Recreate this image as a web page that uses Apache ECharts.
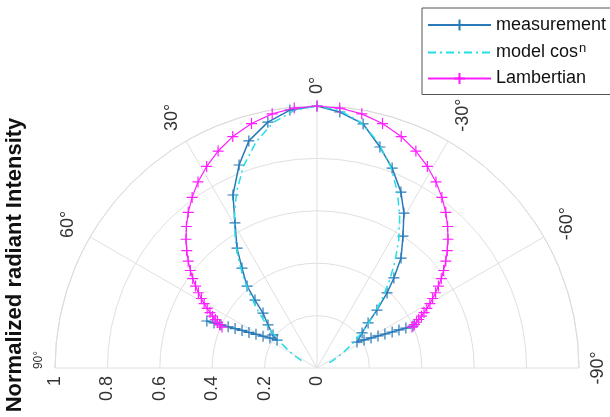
<!DOCTYPE html>
<html>
<head>
<meta charset="utf-8">
<script src="https://cdn.jsdelivr.net/npm/echarts@6/dist/echarts.min.js"></script>
<style>
html,body{margin:0;padding:0;background:#fff;}
#chart{width:610px;height:417px;}
</style>
</head>
<body>
<div id="chart"></div>
<script>
// ---------- data (angles in degrees, radius = normalized intensity) ----------
var measAngles = [-66.4, -65.8, -65.1, -64.4, -63.4, -62.3, -60.9, -59.2, -57.0, -52.1, -48.6, -46.0, -43.0, -40.5, -37.4, -33.1, -29.3, -25.5, -20.6, -15.9, -10.7, -5.1, 0,
  6.0, 11.3, 16.7, 21.0, 25.9, 29.5, 33.7, 36.9, 40.5, 42.4, 44.5, 48.7, 53.1, 55.0, 57.5, 59.5, 61.1, 62.4, 63.4, 64.3, 65.1, 65.8, 66.4, 66.9];
var measValues = [0.400, 0.372, 0.345, 0.318, 0.290, 0.263, 0.236, 0.209, 0.182, 0.218, 0.260, 0.318, 0.392, 0.452, 0.528, 0.601, 0.678, 0.744, 0.815, 0.877, 0.948, 0.981, 1.0,
  0.990, 0.957, 0.905, 0.830, 0.734, 0.636, 0.550, 0.477, 0.411, 0.351, 0.294, 0.249, 0.210, 0.186, 0.213, 0.239, 0.266, 0.293, 0.320, 0.347, 0.374, 0.402, 0.429, 0.457];

var fitAngles = [-66.7, -66.0, -65.3, -64.5, -63.6, -62.6, -61.5, -60.3, -59.0, -57.6, -56.0, -54.3, -52.4, -50.3, -48.0, -45.5, -42.7, -39.6, -36.2, -32.6, -28.7, -24.5, -20, -15, -10, -5, 0,
  5, 10, 15, 20, 24.5, 28.7, 32.6, 36.2, 39.6, 42.7, 45.5, 48.0, 50.3, 52.4, 54.3, 56.0, 57.6, 59.0, 60.3, 61.5, 62.6, 63.6, 64.5, 65.3, 66.0, 66.7];
var modelValues = [0.051, 0.056, 0.061, 0.067, 0.075, 0.083, 0.094, 0.106, 0.120, 0.136, 0.156, 0.179, 0.206, 0.239, 0.276, 0.321, 0.373, 0.435, 0.504, 0.579, 0.657, 0.740, 0.820, 0.895, 0.953, 0.987, 1.0,
  0.987, 0.953, 0.895, 0.820, 0.740, 0.657, 0.579, 0.504, 0.435, 0.373, 0.321, 0.276, 0.239, 0.206, 0.179, 0.156, 0.136, 0.120, 0.106, 0.094, 0.083, 0.075, 0.067, 0.061, 0.056, 0.051];
var lambValues = [0.395, 0.407, 0.418, 0.430, 0.445, 0.460, 0.477, 0.496, 0.515, 0.536, 0.559, 0.584, 0.610, 0.639, 0.669, 0.701, 0.735, 0.771, 0.807, 0.843, 0.877, 0.910, 0.940, 0.966, 0.985, 0.996, 1.0,
  0.996, 0.985, 0.966, 0.940, 0.910, 0.877, 0.843, 0.807, 0.771, 0.735, 0.701, 0.669, 0.639, 0.610, 0.584, 0.559, 0.536, 0.515, 0.496, 0.477, 0.460, 0.445, 0.430, 0.418, 0.407, 0.395];

var angleTicks = [-90, -60, -30, 0, 30, 60, 90];
var radiusTicks = ['0', '0.2', '0.4', '0.6', '0.8', '1'];
var seriesNames = ['measurement', 'model cos', 'Lambertian'];
var yTitle = 'Normalized radiant Intensity';

// ---------- layout ----------
var CX = 317, CY = 368, R = 262;
var FONT = "'Liberation Sans', Arial, sans-serif";
var cMeas = '#2a7ab8', cModel = '#22dfe6', cLamb = '#ff1eff';
var plus = 'path://M0,5L10,5M5,0L5,10';

function pairs(a, v) { return a.map(function (t, i) { return [v[i], t]; }); }

var chart = echarts.init(document.getElementById('chart'), null, {renderer: 'canvas'});

// angle labels computed from the polar layout
var ctx = document.createElement('canvas').getContext('2d');
var graphics = [];
angleTicks.forEach(function (a) {
  var small = (a === 90);
  var fs = small ? 12 : 18;
  ctx.font = fs + 'px ' + FONT;
  var txt = a + '°';
  var w = ctx.measureText(txt).width;
  var th = a * Math.PI / 180;
  var ex = Math.abs(Math.sin(th)) * fs * 0.4 + Math.abs(Math.cos(th)) * w / 2;
  var d = R + 12 + ex;
  graphics.push({
    type: 'text', x: CX - d * Math.sin(th), y: CY - d * Math.cos(th) - (small ? 8 : 0),
    rotation: Math.PI / 2, z: 10,
    style: {text: txt, font: fs + 'px ' + FONT, fill: '#333', align: 'center', verticalAlign: 'middle'}
  });
});
graphics.push({
  type: 'text', x: 15, y: 265, rotation: Math.PI / 2, z: 10,
  style: {text: yTitle, font: 'bold 22px ' + FONT, fill: '#111', align: 'center', verticalAlign: 'middle'}
});

var option = {
  animation: false,
  backgroundColor: '#fff',
  polar: {center: [CX, CY], radius: R},
  angleAxis: {
    type: 'value', min: -90, max: 90, interval: 30,
    startAngle: 0, endAngle: 180, clockwise: false,
    axisLine: {show: true, lineStyle: {color: '#dcdcdc', width: 1}},
    axisTick: {show: false}, axisLabel: {show: false},
    splitLine: {show: true, lineStyle: {color: '#e0e0e0', width: 1}}
  },
  radiusAxis: {
    type: 'value', min: 0, max: 1, interval: 0.2,
    axisLine: {show: false}, axisTick: {show: false}, axisLabel: {show: false},
    splitLine: {show: true, lineStyle: {color: '#e0e0e0', width: 1}}
  },
  grid: {left: CX - R, width: R, bottom: 417 - CY, height: 10, containLabel: false},
  xAxis: {
    type: 'value', min: 0, max: 1, interval: 0.2, inverse: true,
    axisLine: {show: false}, axisTick: {show: false}, splitLine: {show: false},
    axisLabel: {
      rotate: 90, margin: 8, fontSize: 18, color: '#333', fontFamily: FONT,
      showMinLabel: true, showMaxLabel: true,
      formatter: function (v) { return radiusTicks[Math.round(v * 5)]; }
    }
  },
  yAxis: {type: 'value', show: false},
  legend: {
    orient: 'vertical', left: 422, top: 8,
    padding: [8, 20, 7, 5], itemGap: 8, itemWidth: 63, itemHeight: 14,
    backgroundColor: '#fff', borderColor: '#555', borderWidth: 1, borderRadius: 0,
    data: [
      {name: seriesNames[0]},
      {name: seriesNames[1], itemStyle: {opacity: 0}},
      {name: seriesNames[2]}
    ],
    textStyle: {fontSize: 18, color: '#111', fontFamily: FONT,
      rich: {sup: {fontSize: 13, color: '#111', fontFamily: FONT, verticalAlign: 'top', padding: [0, 0, 8, 1]}}},
    formatter: function (n) { return n === seriesNames[1] ? n + '{sup|n}' : n; }
  },
  graphic: graphics,
  series: [
    {
      name: seriesNames[0], type: 'line', coordinateSystem: 'polar',
      data: pairs(measAngles, measValues),
      symbol: plus, symbolSize: 11,
      itemStyle: {color: cMeas, borderColor: cMeas, borderWidth: 1.2},
      lineStyle: {color: cMeas, width: 1.5}, z: 3
    },
    {
      name: seriesNames[1], type: 'line', coordinateSystem: 'polar',
      data: pairs(fitAngles, modelValues),
      symbol: 'none', showSymbol: false,
      itemStyle: {color: cModel},
      lineStyle: {color: cModel, width: 1.5, type: [8, 4, 2, 4]}, z: 4
    },
    {
      name: seriesNames[2], type: 'line', coordinateSystem: 'polar',
      data: pairs(fitAngles, lambValues),
      symbol: plus, symbolSize: 11,
      itemStyle: {color: cLamb, borderColor: cLamb, borderWidth: 1.2},
      lineStyle: {color: cLamb, width: 1.2}, z: 5
    }
  ]
};
chart.setOption(option);
</script>
</body>
</html>
